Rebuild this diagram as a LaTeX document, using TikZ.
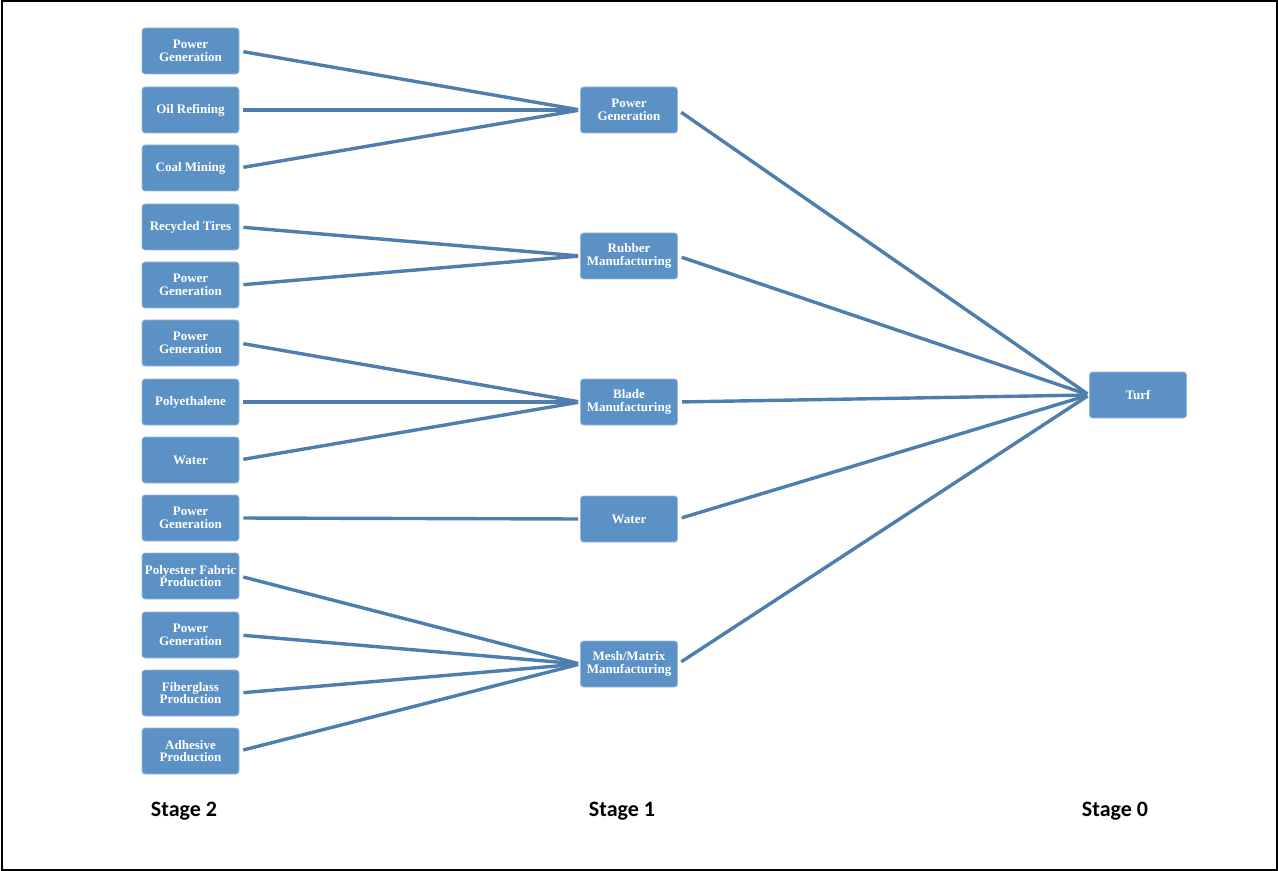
\documentclass[tikz,border=0pt]{standalone}
\usepackage{fontspec}
\setmainfont{Liberation Serif}
\newfontfamily\stagefont{Carlito}
\definecolor{boxblue}{RGB}{92,145,197}
\definecolor{boxedge}{RGB}{150,186,222}
\definecolor{lineblue}{RGB}{78,126,173}

\begin{document}
\begin{tikzpicture}[x=0.5pt,y=-0.5pt,
  box/.style={draw=boxedge, line width=0.4pt, fill=boxblue, rounded corners=1.5pt,
    minimum width=48.5pt, minimum height=23pt, inner sep=0.5pt,
    text=white, align=center, font=\bfseries\fontsize{6.5}{6.4}\selectfont},
  link/.style={draw=lineblue, line width=1.7pt, shorten <=2pt, shorten >=1pt},
  stage/.style={font=\stagefont\bfseries\fontsize{11}{12}\selectfont}]

  \useasboundingbox (0,0) rectangle (1278,871);
  \draw[line width=1pt] (1.5,1.5) rectangle (1276.5,869.5);

  \node[box] (pg-a) at (190.5,51) {Power\\Generation};
  \node[box] (oil) at (190.5,110) {Oil Refining};
  \node[box] (coal) at (190.5,168) {Coal Mining};
  \node[box] (tires) at (190.5,227) {Recycled Tires};
  \node[box] (pg-b) at (190.5,285) {Power\\Generation};
  \node[box] (pg-c) at (190.5,343) {Power\\Generation};
  \node[box] (poly) at (190.5,402) {Polyethalene};
  \node[box] (water-a) at (190.5,460) {Water};
  \node[box] (pg-d) at (190.5,518) {Power\\Generation};
  \node[box] (fabric) at (190.5,576) {Polyester Fabric\\Production};
  \node[box] (pg-e) at (190.5,635) {Power\\Generation};
  \node[box] (glass) at (190.5,693) {Fiberglass\\Production};
  \node[box] (glue) at (190.5,751) {Adhesive\\Production};

  \node[box] (power) at (629,110) {Power\\Generation};
  \node[box] (rubber) at (629,256) {Rubber\\Manufacturing};
  \node[box] (blade) at (629,402) {Blade\\Manufacturing};
  \node[box] (water) at (629,519) {Water};
  \node[box] (mesh) at (629,664) {Mesh/Matrix\\Manufacturing};

  \node[box] (turf) at (1138,395) {Turf};

  \draw[link] (pg-a.east) -- (power.west);
  \draw[link] (oil.east) -- (power.west);
  \draw[link] (coal.east) -- (power.west);
  \draw[link] (tires.east) -- (rubber.west);
  \draw[link] (pg-b.east) -- (rubber.west);
  \draw[link] (pg-c.east) -- (blade.west);
  \draw[link] (poly.east) -- (blade.west);
  \draw[link] (water-a.east) -- (blade.west);
  \draw[link] (pg-d.east) -- (water.west);
  \draw[link] (fabric.east) -- (mesh.west);
  \draw[link] (pg-e.east) -- (mesh.west);
  \draw[link] (glass.east) -- (mesh.west);
  \draw[link] (glue.east) -- (mesh.west);

  \draw[link] (power.east) -- (turf.west);
  \draw[link] (rubber.east) -- (turf.west);
  \draw[link] (blade.east) -- (turf.west);
  \draw[link] (water.east) -- (turf.west);
  \draw[link] (mesh.east) -- (turf.west);

  \node[stage] (s2) at (184,811) {Stage 2};
  \node[stage] (s1) at (622,811) {Stage 1};
  \node[stage] (s0) at (1115,811) {Stage 0};

\end{tikzpicture}
\end{document}
